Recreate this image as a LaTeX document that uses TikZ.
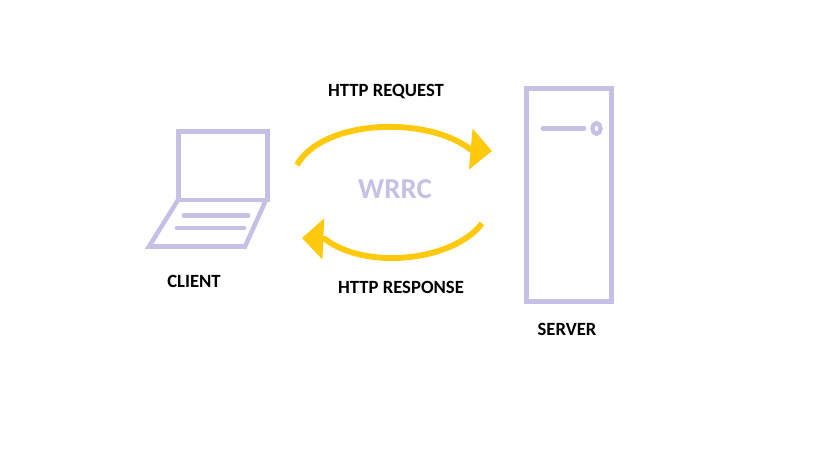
\documentclass[tikz,border=0pt]{standalone}
\usepackage{fontspec}
\setmainfont{Carlito}
\usetikzlibrary{arrows.meta}
\definecolor{lav}{HTML}{C8BFE7}
\definecolor{gold}{HTML}{FFC90E}
\tikzset{
  x=0.75pt,y=-0.75pt,
  outline/.style={draw=lav,line width=3.4pt,line join=miter},
  keyline/.style={draw=lav,line width=3.6pt,line cap=round},
  flow/.style={draw=gold,line width=4.4pt,
    -{Triangle[length=16pt,width=30pt,fill=gold]}},
  lbl/.style={font=\bfseries\fontsize{14}{16}\selectfont,text=black,inner sep=0pt,anchor=center},
  hub/.style={font=\bfseries\fontsize{21.6}{24}\selectfont,text=lav,inner sep=0pt,anchor=center}
}
\begin{document}
\begin{tikzpicture}
\useasboundingbox (0,0) rectangle (819,460);
% laptop
\draw[outline] (178.5,131.5) rectangle (267.5,200);
\draw[outline] (178,200) -- (149,246.5) -- (245,246.5) -- (266,200);
\draw[keyline] (184,215.5) -- (248,215.5);
\draw[keyline] (177,228) -- (244,228);
% server
\draw[outline] (526.5,88.5) rectangle (611.5,301.5);
\draw[keyline] (543,128.3) -- (584,128.3);
\draw[draw=lav,line width=3.3pt] (596.5,128.5) ellipse [x radius=4,y radius=5.3];
% connector ends
\coordinate (reqA) at (297,165);
\coordinate (reqB) at (470,149);
\coordinate (reqTip) at (492,151);
\coordinate (resA) at (482,223.5);
\coordinate (resB) at (325,239);
\coordinate (resTip) at (302,238);
\draw[flow] (reqA) .. controls (322,120) and (425,115) .. (reqB) -- (reqTip);
\draw[flow] (resA) .. controls (452,262) and (365,270) .. (resB) -- (resTip);
% labels
\node[lbl] (request) at (386,92) {HTTP REQUEST};
\node[lbl] (response) at (401,287) {HTTP RESPONSE};
\node[lbl] (client) at (194,281) {CLIENT};
\node[lbl] (server) at (567,329) {SERVER};
\node[hub] (wrrc) at (395,189) {WRRC};
\end{tikzpicture}
\end{document}
